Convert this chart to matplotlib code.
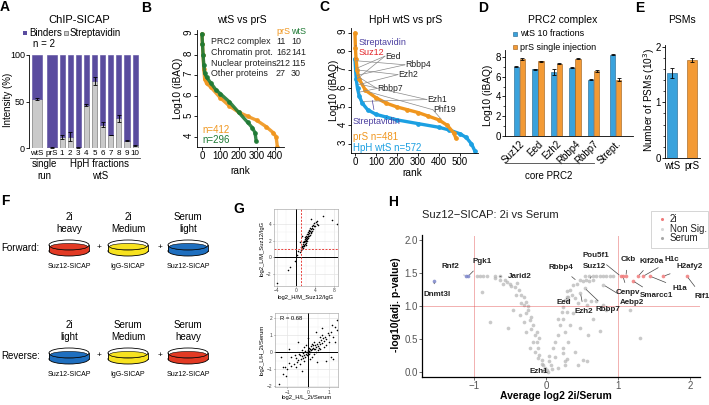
import numpy as np
import matplotlib
matplotlib.use('Agg')
import matplotlib.pyplot as plt
from matplotlib.patches import Ellipse, Rectangle

plt.rcParams['font.family'] = ['Liberation Sans', 'DejaVu Sans']

# ---------------- data ----------------
# A: ChIP-SICAP, streptavidin share of intensity (%)
a_single = ['wtS', 'prS']
a_frac = ['1', '2', '3', '4', '5', '6', '7', '8', '9', '10']
a_strep_single = [53, 1]
a_err_single = [1, 0.5]
a_strep_frac = [12, 12, 1, 46, 72, 25, 14, 32, 8, 3]
a_err_frac = [2.5, 5, 0.5, 1, 4, 2.5, 0.5, 4, 1, 0.5]

# B: wtS vs prS ranked iBAQ
b_prs_rank = [0, 3, 6, 10, 15, 25, 50, 100, 150, 200, 250, 300, 350, 390, 405, 412]
b_prs_val = [9.0, 8.5, 8.0, 7.3, 6.8, 6.6, 6.4, 5.9, 5.5, 5.2, 5.0, 4.8, 4.5, 4.2, 4.0, 3.5]
b_wts_rank = [0, 3, 6, 10, 15, 25, 50, 75, 100, 150, 200, 250, 275, 290, 296]
b_wts_val = [9.0, 8.5, 8.0, 7.5, 7.1, 6.9, 6.6, 6.3, 6.1, 5.7, 5.2, 4.7, 4.45, 4.2, 3.8]
b_categories = ['PRC2 complex', 'Chromatin prot.', 'Nuclear proteins', 'Other proteins']
b_prs_counts = [11, 162, 212, 27]
b_wts_counts = [10, 141, 115, 30]

# C: HpH wtS vs prS
c_prs_rank = [0, 2, 5, 10, 20, 50, 100, 150, 200, 250, 300, 350, 400, 440, 470, 481]
c_prs_val = [9.0, 8.2, 7.6, 7.0, 6.5, 5.9, 5.5, 5.2, 5.0, 4.85, 4.7, 4.5, 4.3, 4.0, 3.6, 3.3]
c_hph_rank = [0, 3, 6, 12, 20, 35, 60, 100, 150, 200, 300, 400, 450, 500, 530, 555, 572]
c_hph_val = [7.6, 7.0, 6.5, 6.0, 5.6, 5.2, 4.85, 4.6, 4.45, 4.3, 4.1, 3.9, 3.75, 3.55, 3.35, 3.0, 2.6]

# D: PRC2 complex
d_proteins = ['Suz12', 'Eed', 'Ezh2', 'Rbbp4', 'Rbbp7', 'Strept.']
d_wts = [7.0, 6.75, 6.5, 6.9, 5.7, 8.2]
d_wts_err = [0.05, 0.05, 0.3, 0.05, 0.05, 0.05]
d_prs = [7.8, 7.55, 7.3, 7.8, 6.6, 5.7]
d_prs_err = [0.07, 0.05, 0.05, 0.05, 0.08, 0.15]

# E: PSMs (10^3)
e_labels = ['wtS', 'prS']
e_vals = [1.53, 1.76]
e_err = [0.09, 0.03]

# G: replicate scatter
g1_x = [0.8, 1.0, 1.1, 1.2, 1.3, 1.4, 1.4, 1.5, 1.5, 1.6, 1.6, 1.7, 1.7, 1.8, 1.8, 1.9, 1.9, 2.0, 2.0, 2.1,
        2.1, 2.2, 2.2, 2.3, 2.3, 2.4, 2.4, 2.5, 2.5, 2.6, 2.6, 2.7, 2.7, 2.8, 2.8, 2.9, 3.0, 3.0, 3.1, 3.2,
        3.3, 3.3, 3.4, 3.5, 3.6, 3.7, 3.8, 4.0, 4.1, 4.3, 4.5, 4.6, 5.7, 7.6, 8.6, 0.3, -0.2, 0.5, -1.3, -1.7,
        -4.0, 1.2, 3.2, 0.9, 1.9, 2.2, 2.6, 3.1, 1.3, 2.0]
g1_y = [0.6, 0.9, 1.2, 1.0, 1.4, 1.1, 1.6, 1.3, 1.8, 1.5, 2.0, 1.4, 1.8, 1.6, 2.2, 1.9, 2.4, 1.7, 2.1, 2.3,
        1.9, 2.6, 2.0, 2.2, 2.8, 2.4, 2.0, 2.6, 3.0, 2.3, 2.8, 3.1, 2.5, 2.9, 3.3, 2.7, 3.2, 3.5, 2.9, 3.4,
        3.7, 3.1, 3.5, 3.9, 3.4, 3.8, 4.1, 3.7, 4.2, 4.0, 4.3, 3.9, 5.0, 4.5, 4.0, 0.3, -0.4, 0.8, -1.2, -1.5,
        -3.1, 2.6, 4.6, 1.8, 2.0, 2.3, 2.6, 3.0, 1.2, 1.5]
g2_x = [-0.05, 0.0, 0.05, -0.1, 0.1, 0.0, -0.15, 0.15, 0.1, -0.2, 0.2, -0.05, 0.05, -0.25, 0.25, 0.3, -0.3,
        0.35, 0.4, -0.35, 0.45, 0.5, -0.4, 0.55, 0.6, -0.5, 0.65, 0.7, -0.55, 0.75, 0.8, -0.6, 0.85, 0.9, -0.7,
        1.0, 0.95, -0.8, 1.1, 1.2, -0.9, 1.3, 1.4, -1.0, -1.1, -1.2, -1.4, 0.2, 0.3, -0.2, -0.1, 0.4, 0.5, -0.3,
        0.6, 0.7, 0.3, 0.2, -0.4, -0.6, 0.8, 0.9, 1.0, 0.6, -0.2, 0.1, -0.8, -1.3, -1.2, 0.4, 0.7, 1.1, 1.2,
        0.9, -0.5, -0.9, 0.0, 1.3, 1.4, -0.3, -1.05, 0.45, 1.15, -0.65, 0.15, -0.15, 0.35, 0.05, -0.25, 0.55,
        0.25, -0.45]
g2_y = [0.0, -0.05, 0.05, -0.1, 0.0, 0.1, 0.05, 0.1, 0.2, -0.15, 0.15, -0.2, -0.1, -0.05, 0.25, 0.2, -0.25,
        0.4, 0.3, -0.4, 0.5, 0.35, -0.2, 0.6, 0.45, -0.45, 0.7, 0.55, -0.6, 0.8, 0.65, -0.35, 0.9, 0.75, -0.7,
        1.0, 1.1, -0.8, 1.2, 0.9, -0.65, 1.5, 1.9, -1.0, -0.9, -1.3, -1.9, -0.3, -0.1, 0.3, 0.4, 0.0, 0.1, 0.1,
        0.9, 1.0, 0.6, 0.5, -0.7, -0.9, 0.3, 0.4, 0.6, 0.2, -0.5, -0.4, -0.3, -0.3, -0.9, 1.2, 1.4, -0.3, -0.4,
        -0.5, 0.6, 0.2, 0.8, 0.6, 1.3, -1.1, -1.4, -0.6, 1.6, -0.15, 0.35, -0.3, 0.15, 0.25, -0.35, 0.25,
        0.4, -0.1]

# H: volcano 2i vs Serum
h_ns_x = [-0.96, -0.92, -0.87, -0.82, -0.71, -0.64, -0.71, -0.64, -0.60, -0.57, -0.54, -0.50, -0.48, -0.43,
          -0.41, -0.38, -0.34, -0.31, -0.28, -0.31, -0.34, -0.25, -0.45, -0.27, -0.36, -0.20, -0.22, -0.18,
          -0.52, -0.27, -0.15, -0.13, -0.18, -0.09, -0.11, -0.22, -0.09, -0.11, -0.06, -0.04, -0.015, 0.01,
          -0.89, -0.78, -0.20, -0.15, -0.05, -0.25, -0.40, -0.30, -0.12, 0.03, -0.02, 0.08,
          0.05, 0.10, 0.12, 0.17, 0.19, 0.17, 0.22, 0.24, 0.27, 0.29, 0.12, 0.07, 0.05, 0.24, 0.29, 0.27, 0.17,
          0.47, 0.52, 0.43, 0.38, 0.33, 0.29, 0.36, 0.31, 0.40, 0.45, 0.54, 0.57, 0.63, 0.70, 0.80, 0.29, 0.24,
          0.38, 0.33, 0.26, 0.47, 0.31, 0.24, 0.40, 0.52, 0.57, 0.45, 0.26, 0.75, 1.31, 1.17, 0.84, 0.66, 0.59,
          0.55, 0.60, 0.66, 0.70, 0.75, 0.80, 0.84, 0.89, 0.93, 0.56, 0.60, 0.65, 0.48, 0.54, 0.80, 0.31]
h_ns_y = [1.45, 1.45, 1.45, 1.45, 1.45, 1.45, 1.42, 1.39, 1.34, 1.39, 1.36, 1.34, 1.31, 1.29,
          1.16, 1.24, 1.16, 1.14, 1.06, 1.01, 1.04, 0.94, 0.94, 0.89, 0.86, 0.84, 0.79, 0.71,
          0.66, 0.61, 0.56, 0.46, 0.46, 0.51, 0.36, 0.36, 0.26, 0.21, 0.18, 0.11, 0.06, 0.03,
          1.21, 0.75, 0.65, 0.30, 0.12, 1.00, 1.35, 0.75, 0.60, 0.00, 0.02, 0.04,
          0.24, 0.36, 0.46, 0.56, 0.71, 0.81, 0.91, 0.99, 1.09, 1.14, 0.23, 0.11, 0.16, 0.29, 0.19, 0.11, 0.06,
          1.39, 1.38, 1.34, 1.32, 1.24, 1.22, 1.17, 1.09, 1.12, 1.04, 1.09, 1.02, 1.07, 1.07, 1.02, 0.91, 0.81,
          0.89, 0.71, 0.61, 0.66, 0.46, 0.36, 0.31, 0.18, 0.16, 0.11, 0.16, 0.62, 0.51, 0.94, 0.94, 0.81, 0.56,
          1.45, 1.45, 1.45, 1.45, 1.45, 1.45, 1.45, 1.45, 1.45, 1.40, 1.38, 1.40, 1.20, 1.27, 1.32, 1.14]
h_2i_x = [1.04, 1.07, 1.11, 1.21, 1.28, 1.35, 1.45, 1.63, 1.96]
h_2i_y = [1.45, 1.45, 1.45, 1.38, 1.45, 1.45, 1.45, 1.45, 1.45]
h_serum_x = [-1.56, -1.11, -1.08]
h_serum_y = [1.38, 1.45, 1.45]
h_genes = ['Rnf2', 'Pgk1', 'Jarid2', 'Dnmt3l', 'Rbbp4', 'Pou5f1', 'Suz12', 'Ckb', 'Kif20a', 'H1c',
           'H2afy2', 'Cenpv', 'Smarcc1', 'H1a', 'Rif1', 'Eed', 'Ezh2', 'Rbbp7', 'Aebp2', 'Ezh1']
h_gene_x = [-1.11, -1.08, -0.64, -1.56, 0.43, 1.04, 0.62, 1.11, 1.28, 1.35,
            1.63, 1.07, 1.21, 1.45, 1.96, 0.31, 0.48, 0.54, 0.80, 0.01]
h_gene_y = [1.45, 1.45, 1.45, 1.38, 1.38, 1.45, 1.42, 1.45, 1.45, 1.45,
            1.45, 1.45, 1.38, 1.45, 1.45, 1.14, 1.20, 1.27, 1.32, 0.03]

# ---------------- figure ----------------
W, H = 709, 405
fig = plt.figure(figsize=(W / 100, H / 100), dpi=100)


def add_ax(l, t, r, b):
    return fig.add_axes([l / W, 1 - b / H, (r - l) / W, (b - t) / H])


def simple_axes(ax, size=6):
    for s in ['top', 'right']:
        ax.spines[s].set_visible(False)
    for s in ['left', 'bottom']:
        ax.spines[s].set_linewidth(0.6)
    ax.tick_params(labelsize=size, length=2, width=0.6, pad=1)


ov = fig.add_axes([0, 0, 1, 1], zorder=10)
ov.set_xlim(0, W)
ov.set_ylim(H, 0)
ov.axis('off')
ov.patch.set_alpha(0)


def txt(x, y, s, size=6.5, **kw):
    kw.setdefault('ha', 'center')
    kw.setdefault('va', 'center')
    ov.text(x, y, s, fontsize=size, **kw)


for letter, (lx, ly) in zip('ABCDEFGH', [(5, 7), (146, 8), (324, 7), (483, 8), (640, 8),
                                           (5, 201), (239, 209), (393, 202)]):
    txt(lx, ly, letter, size=10, fontweight='bold')

purple = '#5a4c9f'
lgray = '#cacaca'
green = '#1f7a35'
orange = '#f0961e'
sky = '#1ca0e2'

# ---- A ----
axA = add_ax(29, 55, 140, 148)
xs = np.array([-3.1, -1.25])
xf = np.arange(len(a_frac))
sing = np.array(a_strep_single)
frac = np.array(a_strep_frac)
axA.bar(xs, sing, 1.3, color=lgray, edgecolor='#666', lw=0.4)
axA.bar(xs, 100 - sing, 1.3, bottom=sing, color=purple, edgecolor=purple, lw=0.4)
axA.bar(xf, frac, 0.62, color=lgray, edgecolor='#666', lw=0.4)
axA.bar(xf, 100 - frac, 0.62, bottom=frac, color=purple, edgecolor=purple, lw=0.4)
axA.errorbar(xs, sing, yerr=a_err_single, fmt='none', ecolor='k', capsize=1.5, elinewidth=0.6, capthick=0.6)
axA.errorbar(xf, frac, yerr=a_err_frac, fmt='none', ecolor='k', capsize=1.2, elinewidth=0.6, capthick=0.6)
axA.set_xlim(-4.07, 9.6)
axA.set_ylim(0, 100)
simple_axes(axA, 6.5)
axA.spines['bottom'].set_visible(False)
axA.set_yticks([0, 50, 100])
axA.set_xticks(list(xs) + list(xf))
axA.set_xticklabels(a_single + a_frac, fontsize=5.8)
axA.tick_params(axis='x', length=0, pad=1.5)
txt(8, 100, 'Intensity (%)', size=7, rotation=90)
txt(79, 20, 'ChIP-SICAP', size=8)
ov.add_patch(Rectangle((23, 31), 4, 4, facecolor=purple, edgecolor='none'))
txt(29, 33, 'Binders', size=7, ha='left')
ov.add_patch(Rectangle((64, 31), 4, 4, facecolor=lgray, edgecolor='#444', lw=0.4))
txt(70, 33, 'Streptavidin', size=7, ha='left')
txt(33, 44, 'n = 2', size=7, ha='left')
ov.plot([30, 58], [158, 158], color='#444', lw=0.6)
ov.plot([59, 140], [158, 158], color='#444', lw=0.6)
txt(44, 164, 'single', size=7)
txt(44, 176, 'run', size=7)
txt(100, 164, 'HpH fractions', size=7)
txt(100, 176, 'wtS', size=7)

# ---- B ----
axB = add_ax(197, 30, 284, 147)
axB.plot(b_prs_rank, b_prs_val, color=orange, lw=2.4, marker='o', ms=2.4, alpha=0.9, solid_capstyle='round')
axB.plot(b_wts_rank, b_wts_val, color=green, lw=2.4, marker='o', ms=2.4, alpha=0.9, solid_capstyle='round')
axB.set_xlim(-27, 448)
axB.set_ylim(3.51, 9.19)
simple_axes(axB, 7)
axB.set_xticks([0, 100, 200, 300, 400])
axB.set_yticks([4, 5, 6, 7, 8, 9])
axB.tick_params(axis='y', labelrotation=90, pad=0.5)
txt(178, 88, 'Log10 (iBAQ)', size=7.3, rotation=90)
txt(240, 171, 'rank', size=7.3)
txt(242, 20, 'wtS vs prS', size=7.5)
txt(276, 31, 'prS', size=6.5, color=orange, ha='left')
txt(291, 31, 'wtS', size=6.5, color=green, ha='left')
for i, cat in enumerate(b_categories):
    yy = 42 + i * 10.5
    txt(211, yy, cat, size=6.4, ha='left', color='#222')
    txt(276, yy, str(b_prs_counts[i]), size=6.4, ha='left', color='#222')
    txt(291, yy, str(b_wts_counts[i]), size=6.4, ha='left', color='#222')
txt(202, 130, 'n=412', size=7, ha='left', color=orange)
txt(202, 140, 'n=296', size=7, ha='left', color=green)

# ---- C ----
axC = add_ax(351, 28, 478, 153)
axC.plot(c_hph_rank, c_hph_val, color=sky, lw=2.4, marker='o', ms=2.4, solid_capstyle='round')
axC.plot(c_prs_rank, c_prs_val, color=orange, lw=2.4, marker='o', ms=2.4, solid_capstyle='round')
axC.set_xlim(-19, 586)
axC.set_ylim(2.51, 9.27)
simple_axes(axC, 7)
axC.set_xticks([0, 100, 200, 300, 400, 500])
axC.set_yticks([3, 4, 5, 6, 7, 8, 9])
axC.tick_params(axis='y', labelrotation=90, pad=0.5)
txt(334, 90, 'Log10 (iBAQ)', size=7.3, rotation=90)
txt(412, 173, 'rank', size=7.3)
txt(406, 20, 'HpH wtS vs prS', size=7.5)
lbl_kw = dict(fontsize=6.5, va='center', ha='left', annotation_clip=False)
axC.annotate('Streptavidin', xy=(3, 8.3), xytext=(19, 8.46), color='#4b3fa0',
             arrowprops=dict(arrowstyle='-', color='#4b3fa0', lw=0.5), **lbl_kw)
axC.annotate('Suz12', xy=(4, 7.6), xytext=(19, 7.97), color='#e3262a',
             arrowprops=dict(arrowstyle='-', color='#e3262a', lw=0.5), **lbl_kw)
c_lbl = [('Eed', (143, 7.75), [(10, 7.1), (8, 6.5)]),
         ('Rbbp4', (238, 7.28), [(4, 7.5), (6, 6.7)]),
         ('Ezh2', (205, 6.75), [(12, 7.0), (15, 6.2)]),
         ('Rbbp7', (105, 6.0), [(20, 6.6), (20, 5.8)]),
         ('Ezh1', (343, 5.4), [(35, 6.2), (40, 5.3)]),
         ('Phf19', (371, 4.85), [(70, 5.8), (410, 4.35)])]
for name, tpos, targets in c_lbl:
    for tgt in targets:
        axC.annotate('', xy=tgt, xytext=tpos, arrowprops=dict(arrowstyle='-', color='#8a8a8a', lw=0.5,
                                                              shrinkA=0, shrinkB=0))
    axC.text(tpos[0] + 3, tpos[1], name, fontsize=6.2, va='center', ha='left', color='#222')
axC.annotate('Streptavidin', xy=(80, 5.5), xytext=(-14, 4.24), color='#4b3fa0',
             arrowprops=dict(arrowstyle='-', color='#4b3fa0', lw=0.5, shrinkA=3), **lbl_kw)
txt(353, 137, 'prS n=481', size=7, ha='left', color=orange)
txt(353, 148, 'HpH wtS n=572', size=7, ha='left', color=sky)

# ---- D ----
axD = add_ax(505, 50, 633, 136)
xd = np.array([0, 1, 2, 3, 4, 5.2])
axD.bar(xd - 0.16, d_wts, 0.28, color='#3aa2dc', edgecolor='#1d5f8a', lw=0.4,
        yerr=d_wts_err, error_kw=dict(elinewidth=0.6, capsize=1.2, capthick=0.6))
axD.bar(xd + 0.16, d_prs, 0.28, color='#f39a35', edgecolor='#9a5a14', lw=0.4,
        yerr=d_prs_err, error_kw=dict(elinewidth=0.6, capsize=1.2, capthick=0.6))
axD.set_xlim(-0.78, 6.13)
axD.set_ylim(0, 8.7)
simple_axes(axD, 7)
axD.set_yticks([0, 2, 4, 6, 8])
axD.set_yticks([1, 3, 5, 7], minor=True)
axD.tick_params(axis='y', which='minor', length=1.2, width=0.5)
axD.set_xticks(xd)
axD.set_xticklabels(d_proteins, rotation=45, ha='right', rotation_mode='anchor', fontsize=7)
axD.tick_params(axis='x', length=0, pad=2)
txt(488, 95, 'Log10 (iBAQ)', size=7.3, rotation=90)
txt(563, 20, 'PRC2 complex', size=7.5)
ov.add_patch(Rectangle((513, 32), 4, 4, facecolor='#3aa2dc', edgecolor='#1d5f8a', lw=0.4))
txt(520, 34, 'wtS 10 fractions', size=6.5, ha='left')
ov.add_patch(Rectangle((513, 45), 4, 4, facecolor='#f39a35', edgecolor='#9a5a14', lw=0.4))
txt(520, 47, 'prS single injection', size=6.5, ha='left')
ov.plot([505, 594], [163, 163], color='#444', lw=0.6)
txt(549, 176, 'core PRC2', size=7)

# ---- E ----
axE = add_ax(665, 45, 700, 158)
axE.bar([0, 1], e_vals, 0.5, color=['#3aa2dc', '#f39a35'], edgecolor=['#1d5f8a', '#9a5a14'], lw=0.4,
        yerr=e_err, error_kw=dict(elinewidth=0.6, capsize=1.5, capthick=0.6))
axE.set_xlim(-0.35, 1.4)
axE.set_ylim(0, 2.03)
simple_axes(axE, 7)
axE.set_yticks([0, 1, 2])
axE.set_yticks(np.arange(0.2, 2.0, 0.2), minor=True)
axE.tick_params(axis='y', which='minor', length=1.2, width=0.5)
axE.set_xticks([0, 1])
axE.set_xticklabels(e_labels, fontsize=7)
axE.tick_params(axis='x', length=0, pad=2)
txt(649, 100, 'Number of PSMs (10$^3$)', size=7.3, rotation=90)
txt(682, 20, 'PSMs', size=7.5)

# ---- F ----
red_d, yel_d, blu_d = '#e23a24', '#f7e21f', '#1f6fbf'


def dish(cx, cy, color):
    w, h, d = 40, 10, 6
    ov.add_patch(Ellipse((cx, cy + d), w, h, facecolor=color, edgecolor='k', lw=0.6))
    ov.add_patch(Rectangle((cx - w / 2, cy), w, d, facecolor=color, edgecolor='none'))
    ov.plot([cx - w / 2, cx - w / 2], [cy, cy + d], color='k', lw=0.6)
    ov.plot([cx + w / 2, cx + w / 2], [cy, cy + d], color='k', lw=0.6)
    ov.add_patch(Ellipse((cx, cy), w, h, facecolor='white', edgecolor='k', lw=0.6))
    ov.add_patch(Ellipse((cx, cy + 1.6), w * 0.92, h * 0.62, facecolor=color, edgecolor='k', lw=0.4))


dish_x = [69, 128, 188]
for row_y, label, tops, colors in [
        (245, 'Forward:', [('2i', 'heavy'), ('2i', 'Medium'), ('Serum', 'light')], [red_d, yel_d, blu_d]),
        (353, 'Reverse:', [('2i', 'light'), ('Serum', 'Medium'), ('Serum', 'heavy')], [blu_d, yel_d, red_d])]:
    txt(1, row_y + 3, label, size=7, ha='left')
    for cx, (t1, t2), col, sub in zip(dish_x, tops, colors, ['Suz12-SICAP', 'IgG-SICAP', 'Suz12-SICAP']):
        dish(cx, row_y, col)
        txt(cx, row_y - 28, t1, size=7)
        txt(cx, row_y - 16, t2, size=7)
        txt(cx, row_y + 22, sub, size=5)
    txt(99, row_y + 2, '+', size=6)
    txt(160, row_y + 2, '+', size=6)

# ---- G ----


def g_axes(ax, xt, yt):
    ax.set_xticks(xt)
    ax.set_yticks(yt)
    ax.set_xticks([(a + b) / 2 for a, b in zip(xt[:-1], xt[1:])], minor=True)
    ax.set_yticks([(a + b) / 2 for a, b in zip(yt[:-1], yt[1:])], minor=True)
    ax.grid(True, which='major', color='#e4e4e4', lw=0.5)
    ax.grid(True, which='minor', color='#f0f0f0', lw=0.3)
    ax.set_axisbelow(True)
    for s in ax.spines.values():
        s.set_color('#9a9a9a')
        s.set_linewidth(0.4)
    ax.tick_params(labelsize=3.5, length=1, width=0.4, pad=0.8, colors='#444', which='major')
    ax.tick_params(which='minor', length=0)
    ax.axhline(0, color='k', lw=0.7)
    ax.axvline(0, color='k', lw=0.7)


axG1 = add_ax(274, 209, 338, 286)
axG1.set_xlim(-4.6, 8.8)
axG1.set_ylim(-3.45, 5.8)
g_axes(axG1, [-4, 0, 4, 8], [-2, 0, 2, 4])
axG1.axhline(1, color='#e8403c', lw=0.7, ls=(0, (2, 1.5)))
axG1.axvline(1, color='#e8403c', lw=0.7, ls=(0, (2, 1.5)))
axG1.scatter(g1_x, g1_y, s=1.3, color='k', lw=0)
txt(306, 297, 'log2_H/M_Suz12/IgG', size=4.2)
txt(262, 248, 'log2_L/M_Suz12/IgG', size=4.2, rotation=90)

axG2 = add_ax(275, 313, 338, 387)
axG2.set_xlim(-1.6, 1.46)
axG2.set_ylim(-2.06, 2.3)
g_axes(axG2, [-1, 0, 1], [-2, -1, 0, 1, 2])
axG2.scatter(g2_x, g2_y, s=1.3, color='k', lw=0)
axG2.text(0.08, 0.93, 'R = 0.68', transform=axG2.transAxes, fontsize=4.2, va='center')
txt(307, 398, 'log2_H/L_2i/Serum', size=4.2)
txt(262, 350, 'log2_L/H_2i/Serum', size=4.2, rotation=90)

# ---- H ----
axH = add_ax(422, 235, 700, 377)
axH.scatter(h_ns_x, h_ns_y, s=7, color='#b3b3b3', alpha=0.7, lw=0)
axH.scatter(h_2i_x, h_2i_y, s=7, color='#f07a7a', alpha=0.85, lw=0)
axH.scatter(h_serum_x, h_serum_y, s=7, color='#7d86c9', alpha=0.85, lw=0)
for v in [-1, 1]:
    axH.axvline(v, color='#e04848', lw=0.6, ls=(0, (1.2, 1.2)))
axH.axhline(1, color='#e04848', lw=0.6, ls=(0, (1.2, 1.2)))
axH.set_xlim(-1.72, 2.14)
axH.set_ylim(-0.076, 2.076)
simple_axes(axH, 7)
axH.spines['left'].set_linewidth(0.9)
axH.spines['bottom'].set_linewidth(0.9)
axH.tick_params(colors='#555', labelcolor='#555')
axH.set_xticks([-1, 0, 1, 2])
axH.set_xticklabels(['\u22121', '0', '1', '2'])
axH.set_yticks([0, 0.5, 1.0, 1.5, 2.0])
axH.set_yticklabels(['0.0', '0.5', '1.0', '1.5', '2.0'])
h_text_pos = [(-1.32, 1.6), (-0.88, 1.67), (-0.36, 1.45), (-1.51, 1.18), (0.21, 1.58), (0.69, 1.76),
              (0.68, 1.6), (1.14, 1.7), (1.47, 1.68), (1.75, 1.7), (2.0, 1.6), (1.14, 1.2), (1.53, 1.16),
              (1.86, 1.27), (2.17, 1.15), (0.25, 1.06), (0.53, 0.91), (0.86, 0.94), (1.19, 1.06), (-0.1, 0.0)]
for g, gx, gy, tp in zip(h_genes, h_gene_x, h_gene_y, h_text_pos):
    axH.annotate(g, xy=(gx, gy), xytext=tp, fontsize=5.8, fontweight='bold', ha='center', va='center',
                 color='#222', annotation_clip=False,
                 arrowprops=dict(arrowstyle='-', color='#444', lw=0.5, shrinkA=3, shrinkB=1.5))
txt(422, 215, 'Suz12\u2212SICAP: 2i vs Serum', size=8, ha='left', color='#222')
txt(396, 305, '-log10(adj. p-value)', size=7.5, rotation=90, fontweight='bold')
txt(556, 396, 'Average log2 2i/Serum', size=7.5, fontweight='bold')
ov.add_patch(Rectangle((651, 211), 57, 37, facecolor='white', edgecolor='#cfcfcf', lw=0.6))
for yy, col, lab in [(219, '#f07a7a', '2i'), (229, '#d8d8d8', 'Non Sig.'), (238, '#a8a8a8', 'Serum')]:
    ov.scatter([662], [yy], s=5, color=col, lw=0)
    txt(670, yy, lab, size=7, ha='left', color='#222')

fig.savefig('out.png', dpi=100)
